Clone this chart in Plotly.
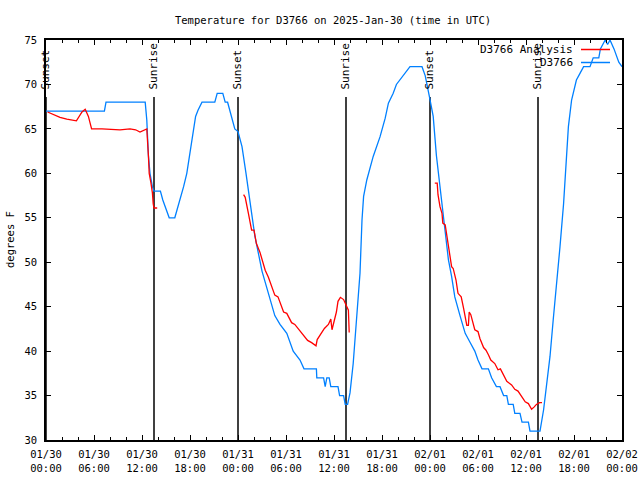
import pandas as pd
import plotly.graph_objects as go

BASE = pd.Timestamp("2025-01-30 00:00")

# D3766 observed (hours since 2025-01-30 00:00 UTC, degrees F)
obs_hours = [0, 7.3, 7.5, 12.4, 12.6, 12.8, 13.0, 13.3, 13.5, 14.3, 14.6, 15.0, 15.4, 16.1,
             16.5, 17.2, 17.6, 18.0, 18.4, 18.7, 19.0, 19.5, 21.1, 21.4, 22.1, 22.4, 22.7,
             23.0, 23.6, 24.0, 24.5, 25.0, 25.5, 26.1, 27.0, 27.8, 28.6, 29.25, 30.1, 30.9,
             31.75, 32.25, 33.8, 33.85, 34.7, 34.9, 35.1, 35.4, 35.6, 36.5, 36.7, 37.2, 37.4,
             37.7, 38.0, 38.4, 38.8, 39.25, 39.5, 39.7, 40.1, 40.9, 41.75, 42.4, 42.8, 43.4,
             43.8, 44.7, 45.5, 47.0, 47.4, 48.0, 48.4, 48.8, 49.25, 49.7, 50.1, 50.3, 50.7,
             51.1, 51.75, 52.4, 53.0, 53.6, 54.0, 54.5, 55.3, 55.7, 56.3, 56.75, 57.2, 57.6,
             57.8, 58.4, 58.6, 59.25, 59.5, 60.3, 60.5, 61.75, 62.2, 62.6, 63.0, 63.4, 63.8,
             64.25, 64.7, 65.0, 65.3, 65.7, 66.3, 66.75, 67.2, 68.0, 68.4, 69.1, 69.3, 69.9,
             70.2, 70.5, 71.0, 71.6, 72.0]
obs_temps = [67, 67, 68, 68, 66, 62, 60, 58.5, 58, 58, 57, 56, 55, 55,
             56.25, 58.5, 60, 62.25, 64.9, 66.4, 67.1, 68, 68, 69, 69, 68, 68,
             67, 65, 64.7, 63, 60, 57, 53, 49, 46.5, 44, 43, 42, 40,
             39, 38, 38, 37, 37, 36, 37, 37, 36, 36, 35, 35, 34,
             34, 35.3, 38.6, 43.9, 48.75, 54.75, 57.4, 59.25, 61.9, 64.1, 66.2, 67.9, 69,
             70, 71, 72, 72, 71, 68.3, 66.4, 62, 58.5, 55, 52.5, 50.3, 48.4,
             46.1, 44, 42, 41, 40, 39, 38, 38, 37, 36, 36, 35, 35,
             34, 34, 33, 33, 32, 32, 31, 31, 33.4, 36.4, 39.4, 43.5, 47.25,
             51.75, 56.6, 60.4, 65.25, 68.25, 70.5, 71.25, 72, 72, 73, 73, 74, 75,
             74.5, 75, 74, 72.5, 72]

# D3766 Analysis (None = gap)
ana_hours = [0.2, 0.9, 1.75, 2.6, 3.8, 4.5, 4.9, 5.3, 5.7, 7.0, 9.25, 10.5, 11.2, 11.75, 12.6,
             12.8, 12.9, 13.1, 13.3, 13.4, 13.5, 13.9, None,
             24.7, 24.9, 25.3, 25.7, 26.0, 26.3, 26.75, 27.4, 27.8, 28.6, 29.0, 29.7, 30.1,
             30.7, 31.1, 31.75, 32.2, 32.7, 33.2, 33.75, 33.9, 34.5, 34.8, 35.3, 35.6, 35.75,
             36.0, 36.3, 36.5, 36.8, 37.2, 37.5, 37.8, 37.9, None,
             48.6, 48.9, 49.0, 49.25, 49.5, 49.6, 49.9, 50.1, 50.3, 50.5, 50.7, 50.9, 51.25,
             51.5, 51.9, 52.2, 52.4, 52.6, 52.8, 52.9, 53.1, 53.4, 53.6, 54.0, 54.25, 54.7,
             55.0, 55.3, 55.6, 56.1, 56.5, 56.8, 57.2, 57.6, 58.2, 58.6, 59.0, 59.5, 59.9,
             60.3, 60.7, 61.0, 61.3, 61.7, 62.0]
ana_temps = [66.9, 66.6, 66.3, 66.1, 65.9, 66.9, 67.2, 66.4, 65.0, 65.0, 64.9, 65.0, 64.9, 64.65, 65.0,
             62, 60, 59, 57.8, 56.6, 56.1, 56.1, None,
             57.6, 57.3, 55.5, 53.6, 53.6, 52.1, 51.1, 49.1, 48.3, 46.3, 46.1, 44.4, 44.25,
             43.2, 43.0, 42.3, 41.8, 41.2, 40.95, 40.6, 41.3, 42.2, 42.55, 43.0, 43.6, 42.4,
             43.3, 44.4, 45.6, 46.05, 45.8, 45.1, 44.6, 42.1, None,
             58.9, 58.9, 57.6, 56.25, 55.5, 54.4, 54.2, 53.1, 51.6, 50.55, 49.5, 49.3, 48.0,
             46.5, 46.1, 44.8, 43.7, 42.9, 42.9, 44.4, 44.1, 42.9, 42.4, 42.2, 41.4, 40.4,
             40.1, 39.6, 39.0, 38.6, 37.9, 38.0, 37.3, 36.6, 36.2, 35.7, 35.5, 34.9, 34.3,
             34.1, 33.45, 33.7, 34.0, 34.2, 34.2]

sun_labels = ["Sunset", "Sunrise", "Sunset", "Sunrise", "Sunset", "Sunrise"]
sun_hours = [0, 13.5, 24, 37.5, 48, 61.5]

tick_hours = list(range(0, 73, 6))
tick_labels = ["01/30<br>00:00", "01/30<br>06:00", "01/30<br>12:00", "01/30<br>18:00",
               "01/31<br>00:00", "01/31<br>06:00", "01/31<br>12:00", "01/31<br>18:00",
               "02/01<br>00:00", "02/01<br>06:00", "02/01<br>12:00", "02/01<br>18:00",
               "02/02<br>00:00"]
y_ticks = [30, 35, 40, 45, 50, 55, 60, 65, 70, 75]

Y_MIN, Y_MAX = 30, 75
SUN_LINE_TOP = 68.6
SUN_LABEL_Y = 69.2

W, H = 640, 480
# plot area in pixels
L, R, T, B = 46, 622, 40, 440


def to_time(h):
    return None if h is None else BASE + pd.Timedelta(hours=h)


def px_x(p):
    return (p - L) / (R - L)


def px_y(p):
    return 1 - (p - T) / (B - T)


FONT = "DejaVu Sans Mono"
BLUE = "#0080ff"
RED = "#ff0000"

fig = go.Figure()

for lab, h in zip(sun_labels, sun_hours):
    fig.add_trace(go.Scatter(x=[to_time(h), to_time(h)], y=[Y_MIN, SUN_LINE_TOP],
                             mode="lines", line=dict(color="black", width=1.5),
                             showlegend=False, hoverinfo="skip"))
    fig.add_annotation(x=to_time(h), y=SUN_LABEL_Y, text=lab, textangle=-90,
                       showarrow=False, xanchor="center", yanchor="bottom",
                       font=dict(family=FONT, size=11, color="black"))

fig.add_trace(go.Scatter(x=[to_time(h) for h in obs_hours], y=obs_temps, mode="lines",
                         line=dict(color=BLUE, width=1.3), name="D3766", showlegend=False))
fig.add_trace(go.Scatter(x=[to_time(h) for h in ana_hours], y=ana_temps, mode="lines",
                         line=dict(color=RED, width=1.3), name="D3766 Analysis",
                         connectgaps=False, showlegend=False))

# Legend (gnuplot style: text left, sample right)
legend_items = [("D3766 Analysis", RED), ("D3766", BLUE)]
for i, (name, col) in enumerate(legend_items):
    yp = px_y(49.5 + 13 * i)
    fig.add_annotation(xref="paper", yref="paper", x=px_x(575), y=yp, text=name,
                       showarrow=False, xanchor="right", yanchor="middle",
                       font=dict(family=FONT, size=11, color="black"))
    fig.add_shape(type="line", xref="paper", yref="paper",
                  x0=px_x(581), x1=px_x(610), y0=yp, y1=yp,
                  line=dict(color=col, width=1.5))

# y axis title
fig.add_annotation(xref="paper", yref="paper", x=px_x(10), y=px_y(240), text="degrees F",
                   textangle=-90, showarrow=False, xanchor="center", yanchor="middle",
                   font=dict(family=FONT, size=10.5, color="black"))

fig.update_layout(
    width=W, height=H,
    margin=dict(l=L, r=W - R, t=T, b=H - B, autoexpand=False),
    paper_bgcolor="white", plot_bgcolor="white",
    title=dict(text="Temperature for D3766 on 2025-Jan-30 (time in UTC)",
               x=333 / W, xanchor="center", y=1 - 20 / H, yanchor="middle",
               xref="container", yref="container",
               font=dict(family=FONT, size=10.5, color="black")),
    font=dict(family=FONT, size=10.5, color="black"),
    showlegend=False,
)
fig.update_xaxes(
    range=[to_time(0), to_time(72)], tickmode="array",
    tickvals=[to_time(h) for h in tick_hours], ticktext=tick_labels,
    ticks="inside", ticklen=5, tickwidth=1, tickcolor="black",
    minor=dict(ticks="inside", ticklen=3, dtick=2 * 3600 * 1000, tickcolor="black", showgrid=False),
    showline=True, linecolor="black", linewidth=1.5, mirror="ticks",
    showgrid=False, zeroline=False, tickfont=dict(family=FONT, size=10.5),
    ticklabelstandoff=4, automargin=False,
)
fig.update_yaxes(
    range=[Y_MIN, Y_MAX], tickmode="array", tickvals=y_ticks,
    ticks="inside", ticklen=5, tickwidth=1, tickcolor="black",
    showline=True, linecolor="black", linewidth=1.5, mirror="ticks",
    showgrid=False, zeroline=False, tickfont=dict(family=FONT, size=10.5),
    ticklabelstandoff=5, automargin=False,
)

fig.write_html("out.html", config={"displayModeBar": False},
               post_script="document.body.style.margin='0';document.body.style.padding='0';")
